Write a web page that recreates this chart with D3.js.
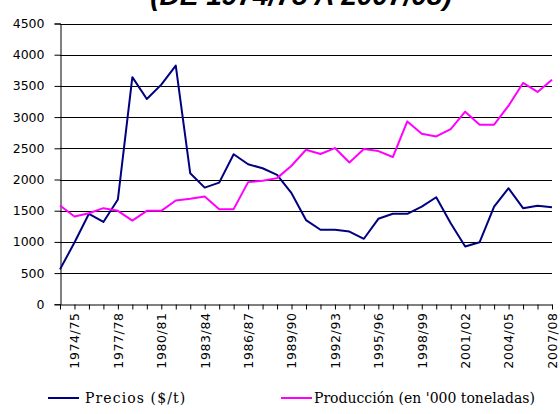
<!DOCTYPE html>
<html>
<head>
<meta charset="utf-8">
<script src="https://cdn.jsdelivr.net/npm/d3@7"></script>
<style>
  body { margin: 0; background: #fff; }
  svg { display: block; }
</style>
</head>
<body>
<svg id="chart" width="560" height="414"></svg>
<script>
// ---- data ----
const years = [
  "1973/74","1974/75","1975/76","1976/77","1977/78","1978/79","1979/80","1980/81",
  "1981/82","1982/83","1983/84","1984/85","1985/86","1986/87","1987/88","1988/89",
  "1989/90","1990/91","1991/92","1992/93","1993/94","1994/95","1995/96","1996/97",
  "1997/98","1998/99","1999/00","2000/01","2001/02","2002/03","2003/04","2004/05",
  "2005/06","2006/07","2007/08"
];
const precios = [
  560, 990, 1450, 1320, 1680, 3640, 3290, 3520, 3825, 2100,
  1870, 1950, 2405, 2245, 2180, 2075, 1780, 1350, 1195, 1195,
  1165, 1050, 1370, 1450, 1450, 1565, 1715, 1300, 925, 995,
  1565, 1860, 1540, 1578, 1557
];
const produccion = [
  1583, 1406, 1460, 1541, 1498, 1342, 1498, 1498, 1663, 1690,
  1727, 1525, 1525, 1958, 1979, 2022, 2220, 2477, 2408, 2504,
  2273, 2488, 2455, 2360, 2931, 2734, 2690, 2809, 3087, 2878,
  2878, 3183, 3547, 3403, 3600
];
const yTicks = [0, 500, 1000, 1500, 2000, 2500, 3000, 3500, 4000, 4500];
const titleText = "(DE 1974/75 A 2007/08)";
const seriesNames = ["Precios ($/t)", "Producción (en '000 toneladas)"];
const seriesColors = ["#000080", "#ff00ff"];

// ---- layout ----
const svg = d3.select("#chart");
const mLeft = 60, mRight = 552, mTop = 23.5, mBottom = 304.3;

const x = d3.scalePoint().domain(years).range([mLeft, mRight]).padding(0);
const y = d3.scaleLinear().domain([0, 4500]).range([mBottom, mTop]);

// title (partly cut off at top, as in the reference)
svg.append("text")
  .attr("x", 301).attr("y", 5)
  .attr("text-anchor", "middle")
  .style("font-family", "'Liberation Sans', Arial, sans-serif")
  .style("font-weight", "bold")
  .style("font-style", "italic")
  .style("font-size", "28px")
  .text(titleText);

// gridlines
svg.append("g")
  .selectAll("line")
  .data(yTicks.filter(d => d > 0))
  .join("line")
  .attr("x1", mLeft).attr("x2", mRight)
  .attr("y1", d => Math.round(y(d)) + 0.5).attr("y2", d => Math.round(y(d)) + 0.5)
  .attr("stroke", "#000").attr("stroke-width", 1);

// y axis
const yAxis = svg.append("g")
  .attr("transform", `translate(${mLeft + 0.5},0)`)
  .call(d3.axisLeft(y).tickValues(yTicks).tickSize(6).tickPadding(10).tickFormat(d3.format("d")));
yAxis.select(".domain").attr("stroke", "#000");
yAxis.selectAll(".tick line").attr("stroke", "#000");
yAxis.selectAll("text")
  .style("font-family", "'DejaVu Sans', sans-serif")
  .style("font-size", "12.5px")
  .attr("fill", "#000");

// x axis
const xAxis = svg.append("g")
  .attr("transform", `translate(0,${Math.round(mBottom) + 0.5})`)
  .call(d3.axisBottom(x).tickSize(5).tickSizeOuter(0)
    .tickFormat((d, i) => ((i - 1) % 3 === 0 ? d : "")));
xAxis.select(".domain").attr("stroke", "#000");
xAxis.selectAll(".tick line").attr("stroke", "#000");
xAxis.selectAll("text")
  .style("font-family", "'DejaVu Sans', sans-serif")
  .style("font-size", "12.5px")
  .style("letter-spacing", "0.6px")
  .attr("fill", "#000")
  .attr("text-anchor", "end")
  .attr("transform", "rotate(-90)")
  .attr("x", -8)
  .attr("y", 0)
  .attr("dy", "0.35em");

// lines
const line = d3.line().x((d, i) => x(years[i])).y(d => y(d));
[precios, produccion].forEach((s, k) => {
  svg.append("path")
    .datum(s)
    .attr("fill", "none")
    .attr("stroke", seriesColors[k])
    .attr("stroke-width", 2)
    .attr("stroke-linejoin", "round")
    .attr("d", line);
});

// legend
const legendPos = [{lx: 48, tx: 85, ls: 1.1}, {lx: 281, tx: 314, ls: 0}];
seriesNames.forEach((name, k) => {
  const p = legendPos[k];
  svg.append("line")
    .attr("x1", p.lx).attr("x2", p.lx + 31)
    .attr("y1", 398).attr("y2", 398)
    .attr("stroke", seriesColors[k]).attr("stroke-width", 2);
  svg.append("text")
    .attr("x", p.tx).attr("y", 403)
    .style("font-family", "'DejaVu Serif', serif")
    .style("font-size", "14px")
    .style("letter-spacing", p.ls + "px")
    .text(name);
});
</script>
</body>
</html>
